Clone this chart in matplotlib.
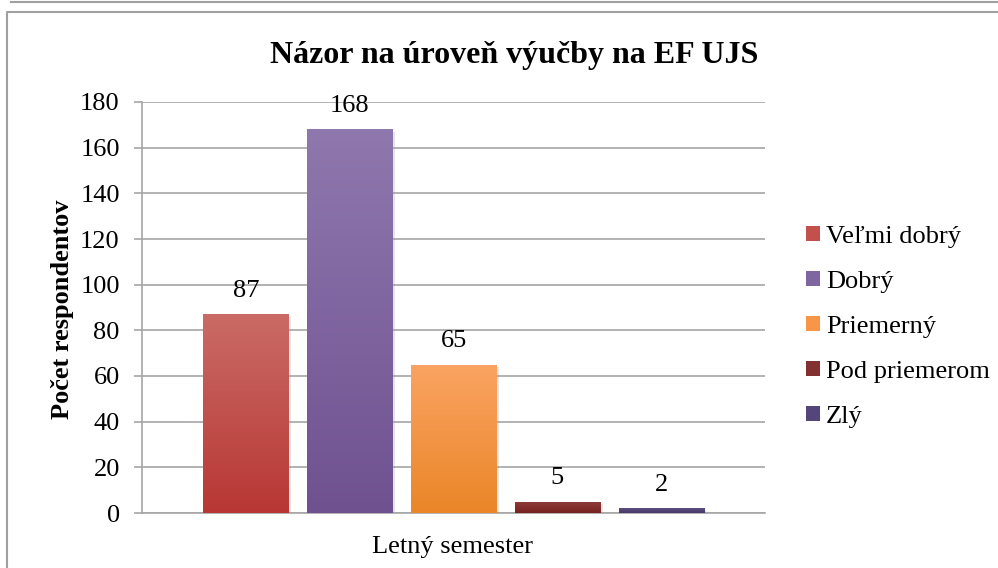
import matplotlib
matplotlib.use("Agg")
import matplotlib.pyplot as plt
import matplotlib.patheffects as pe
from matplotlib.colors import LinearSegmentedColormap
from matplotlib.lines import Line2D
from matplotlib.patches import Rectangle
import numpy as np

plt.rcParams['font.family'] = ['Liberation Serif', 'DejaVu Serif']

title = "Názor na úroveň výučby na EF UJS"
category = "Letný semester"
series = ["Veľmi dobrý", "Dobrý", "Priemerný", "Pod priemerom", "Zlý"]
values = [87, 168, 65, 5, 2]
top_colors = ["#CA6B66", "#8F78AE", "#FAA362", "#8E3D3B", "#5E4E80"]
bottom_colors = ["#B83734", "#6F5190", "#EA8628", "#772221", "#473866"]
legend_colors = ["#C4504D", "#8066A0", "#F79646", "#833030", "#54457A"]
ylabel = "Počet respondentov"
yticks = [0, 20, 40, 60, 80, 100, 120, 140, 160, 180]

FS = 19

fig = plt.figure(figsize=(9.98, 5.68), dpi=100)
ax = fig.add_axes([142/998, 1-513/568, 623/998, 411/568])

grid_c = "#A6A6A6"
ax.set_ylim(0, 180)
ax.set_xlim(-3, 3)
ax.set_yticks(yticks)
ax.yaxis.grid(True, color=grid_c, linewidth=1.2)
ax.set_axisbelow(True)
ax.set_xticks([])
for s in ["top", "right"]:
    ax.spines[s].set_visible(False)
ax.spines["left"].set_color(grid_c)
ax.spines["bottom"].set_color(grid_c)
ax.spines["left"].set_linewidth(1.2)
ax.spines["bottom"].set_linewidth(1.2)
ax.tick_params(axis='y', length=6, width=1.2, color=grid_c, labelsize=FS, pad=10)

width = 0.82
handles = []
for i, (name, v) in enumerate(zip(series, values)):
    x = i - 2
    bar = ax.bar(x, v, width=width, color=bottom_colors[i], zorder=3,
                 path_effects=[pe.SimplePatchShadow(offset=(2, -2), shadow_rgbFace="#999999", alpha=0.25), pe.Normal()])[0]
    cmap = LinearSegmentedColormap.from_list("g%d" % i, [bottom_colors[i], top_colors[i]])
    grad = np.linspace(0, 1, 256).reshape(-1, 1)
    im = ax.imshow(grad, cmap=cmap, aspect='auto', origin='lower',
                   extent=[x - width/2, x + width/2, 0, v], zorder=4)
    im.set_clip_path(bar)
    ax.annotate(str(v), (x, v), xytext=(0, 17), textcoords='offset points',
                ha='center', va='center', fontsize=FS)
    handles.append(Rectangle((0, 0), 1, 1, facecolor=legend_colors[i], edgecolor='none'))

ax.set_xlim(-3, 3)
ax.set_ylim(0, 180)

fig.text(514/998, 1-55/568, title, ha='center', va='center', fontsize=23, fontweight='bold')
fig.text(62/998, 1-309/568, ylabel, ha='center', va='center', rotation=90, fontsize=FS, fontweight='bold')
fig.text(453/998, 1-547/568, category, ha='center', va='center', fontsize=FS)

fig.legend(handles, series, loc='center left', bbox_to_anchor=(806/998, 1-327/568),
           frameon=False, fontsize=FS, handlelength=0.53, handleheight=0.5,
           handletextpad=0.22, labelspacing=0.87, borderpad=0, borderaxespad=0)

# frame lines
fig.add_artist(Line2D([11/998, 1], [1-1.5/568, 1-1.5/568], color="#A0A0A0", linewidth=1.5))
fig.add_artist(Line2D([7/998, 7/998, 1], [0, 1-12/568, 1-12/568], color="#A0A0A0", linewidth=1.5))

fig.savefig("out.png", dpi=100)
